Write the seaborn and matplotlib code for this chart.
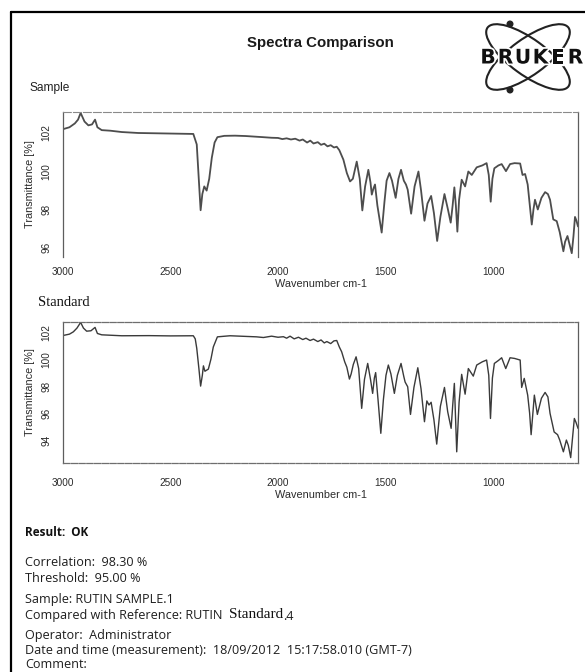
import matplotlib
matplotlib.use("Agg")
import matplotlib.pyplot as plt
import matplotlib.patheffects as pe
from matplotlib.patches import Ellipse, Circle
import pandas as pd
import seaborn as sns

# ---- spectra (wavenumber cm-1, transmittance %) ----
sample_wn = [3000, 2970, 2945, 2930, 2918, 2900, 2882, 2865, 2851, 2840, 2820, 2780,
             2727, 2650, 2550, 2450, 2394, 2378, 2368, 2360, 2352, 2343, 2332, 2320,
             2308, 2295, 2282, 2250, 2200, 2150, 2100, 2068, 2030, 2000, 1980, 1960,
             1940, 1920, 1900, 1885, 1865, 1850, 1835, 1815, 1800, 1785, 1770, 1755,
             1740, 1727, 1715, 1696, 1680, 1665, 1652, 1634, 1620, 1608, 1595, 1580,
             1570, 1564, 1556, 1549, 1538, 1518, 1505, 1495, 1482, 1470, 1453, 1440,
             1428, 1415, 1405, 1397, 1381, 1365, 1347, 1335, 1319, 1305, 1288, 1275,
             1260, 1245, 1226, 1210, 1197, 1188, 1180, 1173, 1166, 1158, 1146, 1130,
             1115, 1099, 1076, 1050, 1030, 1020, 1011, 1003, 994, 975, 960, 940, 921,
             900, 874, 863, 851, 839, 830, 820, 812, 805, 792, 775, 758, 745, 735, 720,
             704, 690, 673, 665, 654, 645, 634, 626, 619, 612, 605]
sample_t = [102.2, 102.3, 102.5, 102.7, 103.05, 102.6, 102.4, 102.45, 102.7, 102.3,
            102.15, 102.12, 102.05, 102.0, 101.98, 101.96, 101.95, 101.4, 99.5, 97.95,
            98.8, 99.2, 98.98, 99.6, 100.7, 101.5, 101.78, 101.85, 101.86, 101.84,
            101.8, 101.78, 101.75, 101.74, 101.68, 101.72, 101.66, 101.7, 101.6,
            101.66, 101.5, 101.6, 101.45, 101.52, 101.38, 101.44, 101.3, 101.36,
            101.24, 101.28, 101.1, 100.6, 99.9, 99.46, 99.6, 100.5, 99.6, 97.94, 99.2,
            100.07, 99.4, 98.77, 99.1, 99.3, 98.2, 96.78, 98.4, 99.5, 99.9, 99.5, 98.6,
            99.6, 100.07, 99.5, 99.3, 99.03, 97.77, 99.2, 99.98, 99.0, 97.4, 98.3, 98.7,
            97.8, 96.34, 97.6, 98.8, 98.0, 97.3, 98.2, 99.15, 98.2, 96.83, 98.5, 99.55,
            99.2, 99.98, 99.8, 100.2, 100.3, 100.42, 99.8, 98.4, 99.6, 100.15, 100.3,
            100.37, 100.0, 100.37, 100.42, 100.4, 99.8, 99.85, 99.3, 98.3, 97.2, 98.0,
            98.5, 97.99, 98.6, 98.9, 98.8, 98.5, 97.47, 97.38, 96.8, 95.8, 96.3, 96.6,
            96.2, 95.7, 96.6, 97.6, 97.4, 97.1]

standard_wn = [3000, 2970, 2952, 2935, 2918, 2905, 2890, 2870, 2851, 2840, 2820, 2727,
               2600, 2500, 2394, 2385, 2378, 2368, 2360, 2352, 2347, 2340, 2324, 2312,
               2301, 2282, 2223, 2150, 2100, 2068, 2030, 2000, 1975, 1960, 1944, 1925,
               1905, 1885, 1870, 1851, 1835, 1815, 1800, 1785, 1773, 1755, 1740, 1727,
               1715, 1704, 1690, 1680, 1668, 1660, 1650, 1637, 1625, 1611, 1598, 1583,
               1570, 1560, 1552, 1546, 1535, 1522, 1510, 1498, 1487, 1475, 1459, 1445,
               1428, 1415, 1409, 1397, 1384, 1368, 1350, 1335, 1319, 1308, 1298, 1288,
               1275, 1262, 1245, 1226, 1211, 1195, 1188, 1180, 1174, 1169, 1158, 1146,
               1130, 1115, 1092, 1076, 1050, 1030, 1020, 1012, 1003, 994, 975, 960, 941,
               921, 900, 874, 867, 855, 839, 830, 823, 815, 808, 794, 775, 758, 745, 735,
               716, 700, 690, 673, 659, 650, 639, 630, 622, 614, 605]
standard_t = [101.75, 101.85, 102.02, 102.3, 102.72, 102.3, 102.07, 102.1, 102.35, 101.9,
              101.8, 101.73, 101.74, 101.72, 101.73, 101.5, 100.8, 99.3, 98.0, 98.8,
              99.5, 99.1, 99.26, 100.0, 100.9, 101.65, 101.73, 101.68, 101.65, 101.6,
              101.7, 101.62, 101.66, 101.55, 101.7, 101.5, 101.62, 101.45, 101.55,
              101.38, 101.48, 101.3, 101.42, 101.2, 101.3, 101.15, 101.35, 101.38,
              100.9, 100.54, 99.8, 99.4, 98.52, 98.9, 99.6, 100.17, 99.3, 96.35, 98.5,
              99.68, 98.5, 97.46, 98.6, 99.0, 97.0, 94.5, 97.0, 98.8, 99.56, 98.9, 97.46,
              98.8, 99.68, 98.7, 98.3, 97.95, 95.9, 97.9, 99.36, 97.8, 95.36, 96.9, 96.6,
              96.8, 95.5, 93.7, 96.5, 97.9, 96.1, 94.87, 96.5, 98.2, 95.5, 93.13, 96.8,
              98.87, 97.4, 99.3, 98.74, 99.56, 99.8, 99.93, 98.8, 95.6, 98.6, 99.68,
              99.9, 100.1, 99.3, 100.1, 100.05, 99.93, 97.9, 98.57, 97.33, 96.0, 94.4,
              96.0, 97.33, 95.9, 97.1, 97.53, 97.2, 95.98, 94.6, 94.4, 94.0, 93.13, 94.0,
              93.6, 92.7, 94.2, 95.6, 95.3, 94.87]

x_ticks = [3000, 2500, 2000, 1500, 1000]
sample_y_ticks = [96, 98, 100, 102]
standard_y_ticks = [94, 96, 98, 100, 102]

report_title = "Spectra Comparison"
result_text = "Result:  OK"
report_lines = [
    ("Correlation:  98.30 %", 563),
    ("Threshold:  95.00 %", 579),
    ("Sample: RUTIN SAMPLE.1", 600),
    ("Operator:  Administrator", 635),
    ("Date and time (measurement):  18/09/2012  15:17:58.010 (GMT-7)", 651),
    ("Comment:", 665),
]

sns.set_theme(style="white")
plt.rcParams["font.family"] = ["Liberation Sans", "DejaVu Sans"]

W, H = 585, 672
fig = plt.figure(figsize=(W / 100, H / 100), dpi=100)
fig.patch.set_facecolor("white")


def box(left, top, right, bottom):
    return [left / W, 1 - bottom / H, (right - left) / W, (bottom - top) / H]


ax1 = fig.add_axes(box(63, 112, 578, 257))
ax2 = fig.add_axes(box(63, 322, 578, 463))

df_sample = pd.DataFrame({"wn": sample_wn, "t": sample_t})
df_standard = pd.DataFrame({"wn": standard_wn, "t": standard_t})
sns.lineplot(data=df_sample, x="wn", y="t", sort=False, estimator=None,
             ax=ax1, color="#4d4d4d", lw=1.3)
sns.lineplot(data=df_standard, x="wn", y="t", sort=False, estimator=None,
             ax=ax2, color="#3a3a3a", lw=1.0)

ax1.set_ylim(95.5, 103.1)
ax2.set_ylim(92.3, 102.75)

for ax, yt, xpad in ((ax1, sample_y_ticks, 4.5), (ax2, standard_y_ticks, 8.5)):
    ax.set_xlim(3000, 605)
    ax.set_xticks(x_ticks)
    ax.set_yticks(yt)
    ax.set_xlabel("")
    ax.set_ylabel("")
    ax.tick_params(axis="both", direction="out", length=2.5, width=0.6,
                   color="#777777", labelsize=7.2, labelcolor="#2b2b2b")
    ax.tick_params(axis="x", pad=xpad)
    ax.tick_params(axis="y", pad=6)
    for lab in ax.get_yticklabels():
        lab.set_rotation(90)
        lab.set_va("center")
    for side in ("left", "right"):
        ax.spines[side].set_color("#5e5e5e")
        ax.spines[side].set_linewidth(0.9)
    ax.set_facecolor("white")

ax1.spines["top"].set_color("#8a8a8a")
ax1.spines["top"].set_linewidth(0.8)
ax1.spines["top"].set_linestyle((0, (7, 2)))
ax1.spines["bottom"].set_visible(False)
for side in ("top", "bottom"):
    ax2.spines[side].set_color("#6e6e6e")
    ax2.spines[side].set_linewidth(0.9)
    ax2.spines[side].set_linestyle((0, (5, 1.2)))

# ---- page overlay in pixel coordinates ----
ov = fig.add_axes([0, 0, 1, 1])
ov.set_xlim(0, W)
ov.set_ylim(H, 0)
ov.axis("off")
ov.patch.set_alpha(0)

ov.plot([11, 11], [12, H], color="black", lw=1.6, clip_on=False)
ov.plot([11, W], [12, 12], color="black", lw=1.6, clip_on=False)

ov.text(320, 43, report_title, ha="center", va="center", fontsize=10.8,
        fontweight="bold", color="#1a1a1a")
ov.text(29, 88, "Sample", ha="left", va="center", fontsize=8.6, color="#222222")
ov.text(38, 303, "Standard", ha="left", va="center", fontsize=10.5,
        family=["Liberation Serif", "DejaVu Serif"], color="#111111")

for yc in ((112 + 257) / 2, (322 + 463) / 2):
    ov.text(30, yc, "Transmittance [%]", rotation=90, ha="center", va="center",
            fontsize=7.8, color="#2b2b2b")
ov.text(321, 284, "Wavenumber cm-1", ha="center", va="center", fontsize=7.8,
        color="#2b2b2b")
ov.text(321, 495, "Wavenumber cm-1", ha="center", va="center", fontsize=7.8,
        color="#2b2b2b")

# logo: two crossed orbits with the company letters over them
for ang in (36, -36):
    ov.add_patch(Ellipse((528, 57), 100, 36, angle=ang, fill=False,
                         ec="#222222", lw=1.5))
ov.add_patch(Circle((510, 24), 2.8, color="#222222"))
ov.add_patch(Circle((510, 90), 2.8, color="#222222"))
for i, ch in enumerate("BRUKER"):
    ov.text(488 + i * 17.5, 58, ch, ha="center", va="center", fontsize=14.5,
            fontweight="heavy", family=["DejaVu Sans"], color="#111111",
            path_effects=[pe.withStroke(linewidth=2.5, foreground="white")])

# report block
txt_font = ["Open Sans", "DejaVu Sans"]
ov.text(25, 532, result_text, ha="left", va="center", fontsize=8.5,
        fontweight="bold", family=txt_font, color="#111111")
for line, yc in report_lines:
    ov.text(25, yc, line, ha="left", va="center", fontsize=9.1,
            family=txt_font, color="#1e1e1e")

cmp_txt = ov.text(25, 616, "Compared with Reference: RUTIN", ha="left",
                  va="center", fontsize=9.1, family=txt_font, color="#1e1e1e")
fig.canvas.draw()
renderer = fig.canvas.get_renderer()
inv = ov.transData.inverted()
bb = cmp_txt.get_window_extent(renderer)
x_end = inv.transform((bb.x1, bb.y0))[0]
std_txt = ov.text(x_end + 6, 614, "Standard", ha="left", va="center",
                  fontsize=11, family=["Liberation Serif", "DejaVu Serif"],
                  color="#111111")
fig.canvas.draw()
bb2 = std_txt.get_window_extent(renderer)
x_end2 = inv.transform((bb2.x1, bb2.y0))[0]
ov.text(x_end2, 617, ".4", ha="left", va="center", fontsize=9.1,
        family=txt_font, color="#1e1e1e")

fig.savefig("out.png", dpi=100, facecolor="white")
